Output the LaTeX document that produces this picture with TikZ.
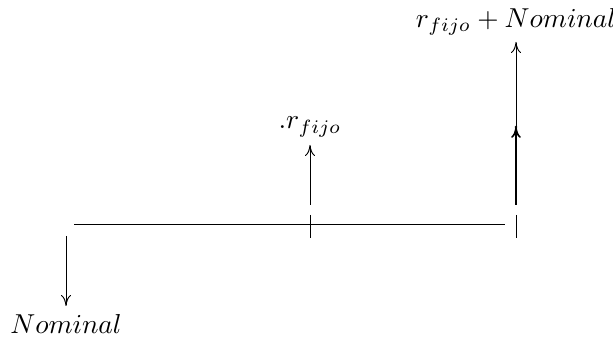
\documentclass[tikz,border=0pt]{standalone}
\usetikzlibrary{arrows.meta}
\begin{document}
\begin{tikzpicture}[x=0.365pt,y=-0.365pt,
  flow/.style={-{To[length=4pt,width=3.6pt]},line width=0.35pt},
  tick/.style={line width=0.35pt},
  lbl/.style={inner sep=0pt}]
\useasboundingbox (0,0) rectangle (613,339);
% axis
\coordinate (a0) at (74,224);
\coordinate (a1) at (505,224);
\draw[tick] (a0) -- (a1);
% ticks
\coordinate (t1a) at (310,215); \coordinate (t1b) at (310,238);
\draw[tick] (t1a) -- (t1b);
\coordinate (t2a) at (516,215); \coordinate (t2b) at (516,238);
\draw[tick] (t2a) -- (t2b);
% left down arrow
\coordinate (d0) at (66,236);
\node[lbl] (nom) at (66,324) {$Nominal$};
\draw[flow] (d0) -- (66,306);
% middle up arrow
\coordinate (m0) at (310,205);
\node[lbl] (rf) at (310,127) {$.r_{fijo}$};
\draw[flow] (m0) -- (310,145);
% right arrows
\coordinate (r0) at (516,205);
\coordinate (rd) at (516,127);
\fill (rd) circle (0.5pt);
\draw[flow,line width=0.6pt] (r0) -- (rd);
\node[lbl] (rt) at (516,22) {$r_{fijo}+Nominal$};
\draw[flow] (rd) -- (516,42);
\end{tikzpicture}
\end{document}
